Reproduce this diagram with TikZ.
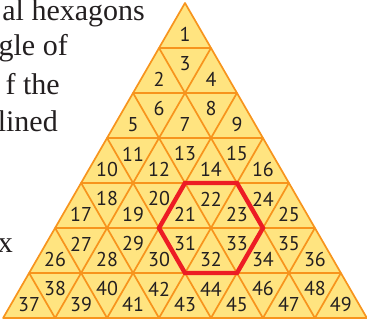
\documentclass[tikz,border=0pt]{standalone}
\usepackage{fontspec}
\usetikzlibrary{calc}
\setmainfont{Liberation Serif}
\newfontfamily\numfont{PT Sans}
\definecolor{triyellow}{RGB}{255,228,128}
\definecolor{triorange}{RGB}{247,148,29}
\definecolor{hexred}{RGB}{237,28,36}
\definecolor{numgray}{RGB}{35,31,32}
\tikzset{
  tri/.style={draw=triorange, line width=1.7pt, line join=round},
  num/.style={text=numgray, font=\numfont\fontsize{20}{20}\selectfont, inner sep=0pt},
  side/.style={text=numgray, font=\fontsize{30}{34}\selectfont, inner sep=0pt, anchor=base east},
  hex/.style={draw=hexred, line width=4.4pt, line join=miter}
}
\begin{document}
\begin{tikzpicture}[x=1pt,y=-1pt]
\useasboundingbox (0,0) rectangle (367,320);
\pgfmathsetmacro{\s}{51.96}
\pgfmathsetmacro{\h}{45}
% background fill
\coordinate (apex) at (185,3);
\coordinate (bl) at ({185-3.5*\s},318);
\coordinate (br) at ({185+3.5*\s},318);
\fill[triyellow] (apex) -- (bl) -- (br) -- cycle;
% small triangles and numbers
\foreach \r in {1,...,7}{
  \pgfmathsetmacro{\yt}{3+\h*(\r-1)}
  \pgfmathsetmacro{\yb}{3+\h*\r}
  \pgfmathsetmacro{\xo}{185-(\r-1)*\s/2}
  \pgfmathtruncatemacro{\last}{\r-1}
  \foreach \i in {0,...,\last}{
    \pgfmathsetmacro{\xt}{\xo+\i*\s}
    \pgfmathtruncatemacro{\n}{(\r-1)*(\r-1)+2*\i+1}
    \draw[tri] (\xt,\yt) -- ({\xt-\s/2},\yb) -- ({\xt+\s/2},\yb) -- cycle;
    \node[num] (t\n) at (\xt,{\yt+31.5}) {\n};
  }
  \ifnum\r>1
  \pgfmathtruncatemacro{\lastd}{\r-2}
  \foreach \i in {0,...,\lastd}{
    \pgfmathsetmacro{\xd}{\xo+(\i+0.5)*\s}
    \pgfmathtruncatemacro{\n}{(\r-1)*(\r-1)+2*\i+2}
    \node[num] (t\n) at (\xd,{\yt+16}) {\n};
  }
  \fi
}
% red hexagon
\coordinate (hc) at ({185+\s/2},228);
\draw[hex] ($(hc)+(-\s,0)$) -- ($(hc)+(-\s/2,-45)$) -- ($(hc)+(\s/2,-45)$) -- ($(hc)+(\s,0)$) -- ($(hc)+(\s/2,45)$) -- ($(hc)+(-\s/2,45)$) -- cycle;
% clipped side text
\begin{scope}
\clip (0,0) rectangle (367,320);
\node[side] (l1) at (145,21) {al hexagons};
\node[side] (l2) at (68,56) {gle of};
\node[side] (l3) at (60,95) {f the};
\node[side] (l4) at (58,132) {lined};
\node[side] (l5) at (13,253) {x};
\end{scope}
\end{tikzpicture}
\end{document}
